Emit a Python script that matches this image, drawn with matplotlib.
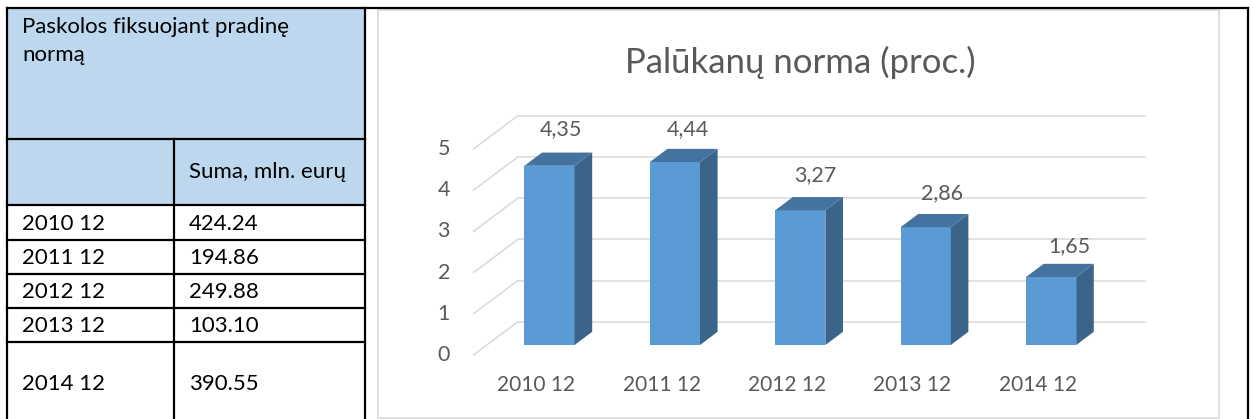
"""Loan table with a 3D-look bar chart of interest rates."""

import matplotlib
matplotlib.use("Agg")
import matplotlib.pyplot as plt
from matplotlib.patches import Polygon, Rectangle

# ── Table data ──
table_title = ["Paskolos fiksuojant pradinę", "normą"]
col_header = "Suma, mln. eurų"
periods = ["2010 12", "2011 12", "2012 12", "2013 12", "2014 12"]
amounts = ["424.24", "194.86", "249.88", "103.10", "390.55"]

# ── Chart data ──
chart_title = "Palūkanų norma (proc.)"
rates = [4.35, 4.44, 3.27, 2.86, 1.65]
rate_labels = ["4,35", "4,44", "3,27", "2,86", "1,65"]
y_ticks = [0, 1, 2, 3, 4, 5]

W, H = 1253, 419
FONT = ["Lato", "DejaVu Sans"]
TXT = "#595959"
GRID = "#D9D9D9"
FRONT, SIDE, TOP = "#5B9BD5", "#3A6489", "#44739F"

plt.rcParams["font.family"] = FONT

fig = plt.figure(figsize=(W / 100, H / 100), dpi=100)
fig.patch.set_facecolor("white")

# layout layer in pixel units (table cells + frames)
lay = fig.add_axes([0, 0, 1, 1])
lay.set_xlim(0, W)
lay.set_ylim(H, 0)
lay.axis("off")

left, mid, right, far_right = 7, 174, 365, 1248
top = 8.5
row_edges = [139, 205, 240, 274, 308, 342, 424]

lay.add_patch(Rectangle((left, top), right - left, row_edges[1] - top,
                        facecolor="#BDD7EE", edgecolor="none", zorder=0))
blk = dict(color="black", lw=1.6, solid_capstyle="projecting", zorder=2)
lay.plot([left, far_right], [top, top], **blk)
for x in (left, right, far_right):
    lay.plot([x, x], [top, H + 5], **blk)
lay.plot([mid, mid], [row_edges[0], H + 5], **blk)
for y in row_edges[:-1]:
    lay.plot([left, right], [y, y], **blk)

# chart frame
lay.add_patch(Rectangle((378, 10), 841, 408, facecolor="none",
                        edgecolor=GRID, lw=1.2, zorder=1))

tsize = 16
lay.text(22, 33, table_title[0], fontsize=tsize, va="baseline", ha="left")
lay.text(22, 61, table_title[1], fontsize=tsize, va="baseline", ha="left")
lay.text(189, (row_edges[0] + row_edges[1]) / 2, col_header,
         fontsize=tsize, va="center", ha="left")
for k, (p, a) in enumerate(zip(periods, amounts)):
    yc = (row_edges[k + 1] + row_edges[k + 2]) / 2 + 1
    lay.text(22, yc, p, fontsize=tsize, va="center", ha="left")
    lay.text(189, yc, a, fontsize=tsize, va="center", ha="left")

# ── Chart axes: x = category index, y = rate, front bar plane ──
CAT0_PX, CAT_PX = 549.5, 125.4
VAL0_PX, VAL_PX = 345.0, 41.2
ax_l, ax_r, ax_t, ax_b = 379, 1218, 11, 417
ax = fig.add_axes([ax_l / W, 1 - ax_b / H, (ax_r - ax_l) / W, (ax_b - ax_t) / H])
ax.set_xlim((ax_l - CAT0_PX) / CAT_PX, (ax_r - CAT0_PX) / CAT_PX)
ax.set_ylim((VAL0_PX - ax_b) / VAL_PX, (VAL0_PX - ax_t) / VAL_PX)
ax.axis("off")
ax.patch.set_alpha(0)

# oblique depth direction (data units per unit depth)
DX, DY = 0.351, 0.801
S_FRONT, S_BAR, S_WALL = -0.3, 0.4, 0.7
X_LEFT, X_RIGHT = -0.5, len(rates) - 0.5
BW = 0.4

for t in y_ticks:
    yb = t + S_WALL * DY
    ax.plot([X_LEFT + S_WALL * DX, X_RIGHT + S_WALL * DX], [yb, yb],
            color=GRID, lw=1.1, zorder=1)
    ax.plot([X_LEFT + S_FRONT * DX, X_LEFT + S_WALL * DX],
            [t + S_FRONT * DY, yb], color=GRID, lw=1.1, zorder=1)
    ax.annotate(str(t), (X_LEFT + S_FRONT * DX, t + S_FRONT * DY),
                xytext=(-17, 0), textcoords="offset points",
                ha="right", va="center", fontsize=15.5, color=TXT)

ox, oy = S_BAR * DX, S_BAR * DY
for i, v in enumerate(rates):
    x0, x1 = i - BW / 2, i + BW / 2
    ax.add_patch(Rectangle((x0, 0), BW, v, facecolor=FRONT,
                           edgecolor="none", zorder=3))
    ax.add_patch(Polygon([(x1, 0), (x1 + ox, oy), (x1 + ox, v + oy), (x1, v)],
                         closed=True, facecolor=SIDE, edgecolor="none", zorder=3))
    ax.add_patch(Polygon([(x0, v), (x0 + ox, v + oy), (x1 + ox, v + oy), (x1, v)],
                         closed=True, facecolor=TOP, edgecolor="none", zorder=3))

    ax.annotate(periods[i], (i + S_FRONT * DX, S_FRONT * DY),
                xytext=(0, -22), textcoords="offset points",
                ha="center", va="center", fontsize=15, color=TXT)

    # data labels sit on a slightly nearer plane (perspective), capped at top
    ly = min(0.63 + 1.068 * v, 5.24)
    ax.text(i * 1.013 + 0.092, ly, rate_labels[i], ha="center", va="center",
            fontsize=15.5, color=TXT, zorder=4)

ax.text(2.0, (VAL0_PX - 73) / VAL_PX, chart_title, ha="center", va="baseline",
        fontsize=25, color=TXT)

fig.savefig("out.png", dpi=100)
plt.close(fig)
